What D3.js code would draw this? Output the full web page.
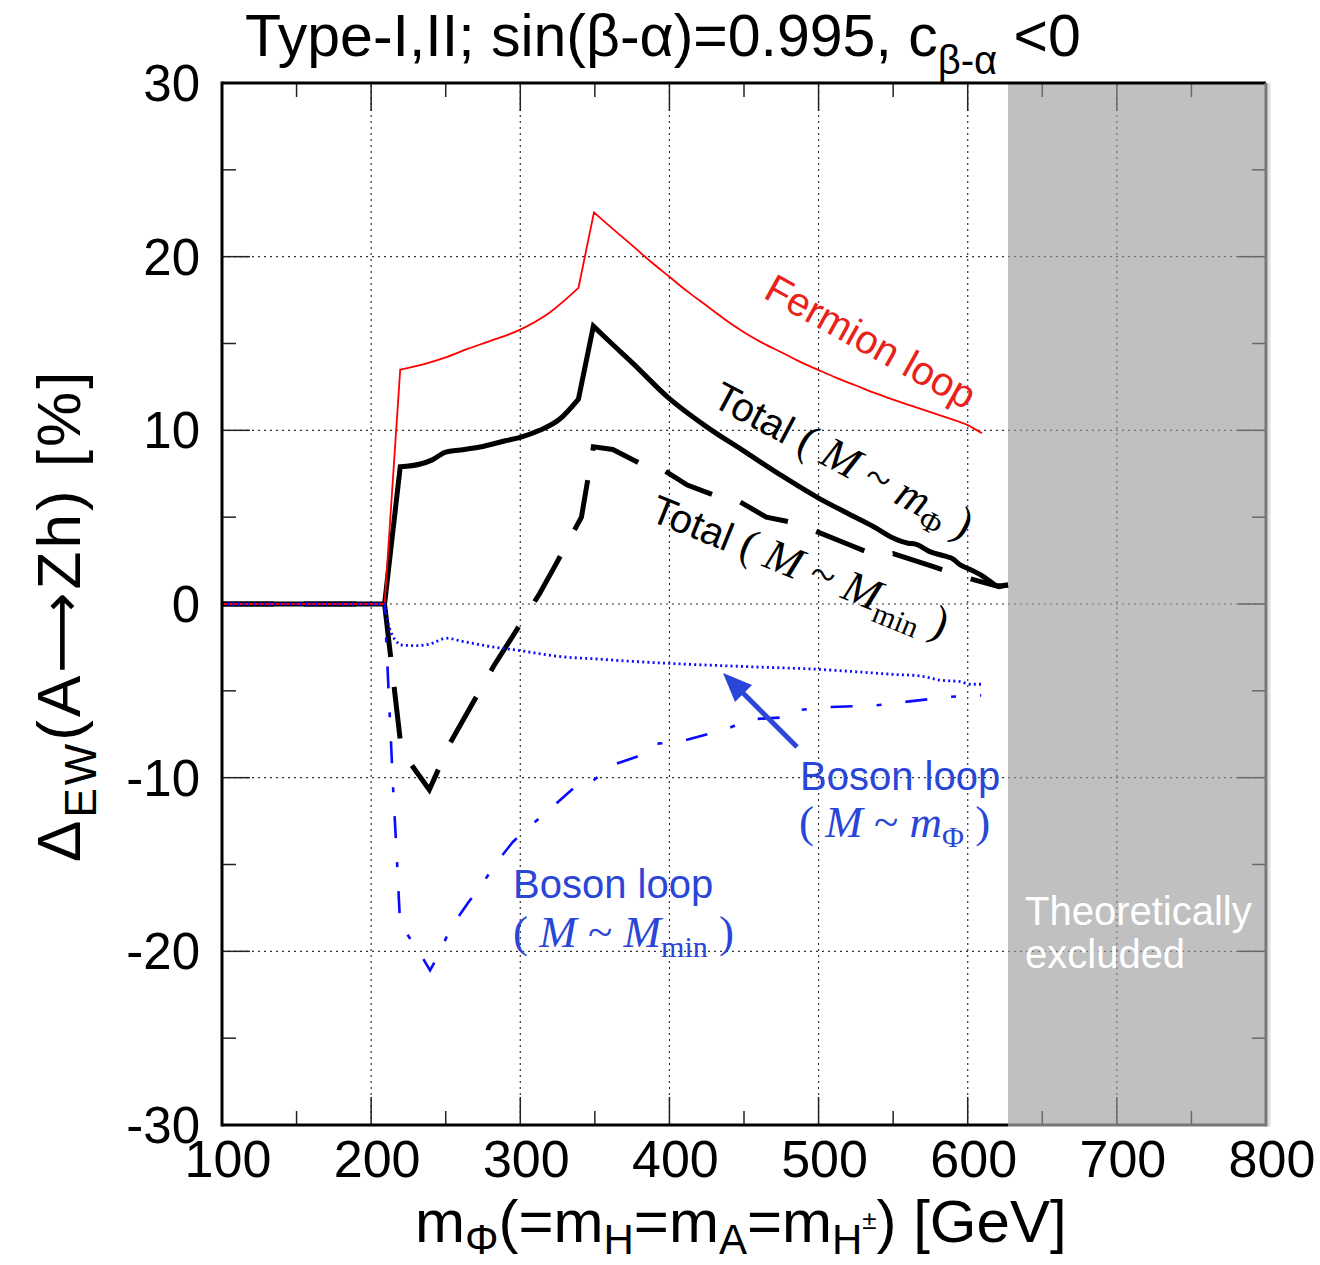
<!DOCTYPE html>
<html>
<head>
<meta charset="utf-8">
<script src="https://cdn.jsdelivr.net/npm/d3@7"></script>
<style>
  body { margin: 0; background: #fff; }
  svg { display: block; }
</style>
</head>
<body>
<svg id="chart" width="1320" height="1265"></svg>
<script>
// ====================================
// Données
// ====================================
const xTicksMajor = [100, 200, 300, 400, 500, 600, 700, 800];
const yTicksMajor = [-30, -20, -10, 0, 10, 20, 30];
const excludedFrom = 627;

// Fermion loop
const massFermion = [100, 209, 219.5, 235, 250, 265, 280, 300, 320, 339, 349.4, 362, 375, 387, 400, 412, 425, 437, 450, 462, 475, 487, 500, 512, 525, 537, 550, 562, 575, 587, 600, 609.5];
const fermionLoop = [0, 0, 13.5, 13.8, 14.2, 14.7, 15.15, 15.8, 16.8, 18.2, 22.55, 21.6, 20.65, 19.75, 18.84, 18.0, 17.17, 16.4, 15.65, 15.05, 14.5, 13.97, 13.47, 13.02, 12.58, 12.17, 11.77, 11.42, 11.05, 10.7, 10.3, 9.83];

// Total (M ~ m_Phi)
const massTotal = [100, 209, 219.5, 233, 241, 250, 260, 273, 290, 300, 313, 326.5, 339, 349, 360, 375, 399, 425, 450, 475, 500, 520, 537, 550, 560, 565, 575, 585, 590, 595, 600, 610, 615, 620, 627];
const totalMPhi = [0, 0, 7.9, 8.06, 8.3, 8.75, 8.87, 9.04, 9.4, 9.6, 10.0, 10.65, 11.8, 16.0, 15.1, 13.9, 11.9, 10.2, 8.8, 7.4, 6.1, 5.2, 4.45, 3.8, 3.5, 3.45, 3.0, 2.75, 2.6, 2.25, 2.05, 1.6, 1.3, 1.05, 1.1];

// Total (M ~ M_min)
const massTotalMin = [100, 209, 220, 224, 239, 253, 282, 313, 323, 341, 349, 362, 380, 389, 412, 432, 440, 447, 465, 485, 521, 541, 550, 577, 597, 621, 627];
const totalMmin = [0, 0, -8.2, -8.9, -10.7, -8.0, -3.6, 0.6, 2.15, 5.0, 9.05, 8.9, 8.1, 8.1, 6.85, 6.2, 5.9, 5.9, 5.0, 4.65, 3.4, 2.7, 2.9, 2.15, 1.57, 1.0, 1.1];

// Boson loop (M ~ m_Phi)
const massBoson = [100, 209, 212, 219.5, 230, 239.5, 250.7, 260, 280, 300, 327, 354, 367, 400, 450, 499, 525, 550, 568, 581, 595, 601.5, 609.4];
const bosonMPhi = [0, 0, -1.3, -2.36, -2.4, -2.3, -1.97, -2.13, -2.45, -2.69, -3.03, -3.18, -3.26, -3.42, -3.6, -3.76, -3.9, -4.05, -4.14, -4.38, -4.47, -4.62, -4.62];

// Boson loop (M ~ M_min)
const massBosonMin = [100, 209, 215, 217, 219.4, 221, 229.4, 232, 239.5, 246, 253, 265, 274, 283, 295, 306.5, 320, 334.5, 339, 347, 362, 378, 389, 407, 438, 454, 479, 488, 503, 537, 588, 609];
const bosonMmin = [0, 0, -11.1, -14.2, -18.4, -18.6, -19.7, -20.0, -21.1, -20.07, -18.7, -17.2, -16.2, -15.0, -13.7, -12.8, -11.8, -10.7, -10.3, -10.3, -9.27, -8.8, -8.06, -7.93, -7.21, -6.64, -6.52, -6.1, -5.95, -5.85, -5.34, -5.26];

// ====================================
// Mise en page
// ====================================
const sans = "'Liberation Sans', Arial, Helvetica, sans-serif";
const serif = "'Liberation Serif', 'Times New Roman', serif";
const blueText = "#2a46d6";

const svg = d3.select("#chart");
const x = d3.scaleLinear().domain([100, 800]).range([222, 1266]);
const y = d3.scaleLinear().domain([-30, 30]).range([1125, 83]);
const [x0, x1] = x.range();
const [y0, y1] = y.range();

// zone exclue (fond gris)
svg.append("rect")
    .attr("x", x(excludedFrom)).attr("y", y1)
    .attr("width", x(800) - x(excludedFrom)).attr("height", y0 - y1)
    .attr("fill", "#c0c0c0");

// grille pointillée
const grid = svg.append("g").attr("stroke", "#333").attr("stroke-width", 1.2).attr("stroke-dasharray", "2,4");
grid.selectAll(".gx").data(xTicksMajor.slice(1, -1)).join("line")
    .attr("x1", d => x(d)).attr("x2", d => x(d)).attr("y1", y0).attr("y2", y1);
grid.selectAll(".gy").data(yTicksMajor.slice(1, -1)).join("line")
    .attr("x1", x0).attr("x2", x1).attr("y1", d => y(d)).attr("y2", d => y(d));

// graduations (vers l'intérieur, sur les 4 côtés)
const ticks = svg.append("g").attr("stroke", "#222").attr("stroke-width", 1.5);
const xMinor = d3.range(150, 800, 100);
const yMinor = d3.range(-25, 30, 10);
function xTick(v, len) {
    ticks.append("line").attr("x1", x(v)).attr("x2", x(v)).attr("y1", y0).attr("y2", y0 - len);
    ticks.append("line").attr("x1", x(v)).attr("x2", x(v)).attr("y1", y1).attr("y2", y1 + len);
}
function yTick(v, len) {
    ticks.append("line").attr("x1", x0).attr("x2", x0 + len).attr("y1", y(v)).attr("y2", y(v));
    ticks.append("line").attr("x1", x1).attr("x2", x1 - len).attr("y1", y(v)).attr("y2", y(v));
}
xTicksMajor.forEach(v => xTick(v, 28));
xMinor.forEach(v => xTick(v, 14));
yTicksMajor.forEach(v => yTick(v, 28));
yMinor.forEach(v => yTick(v, 14));

// voile gris sur les graduations dans la zone exclue
svg.append("rect")
    .attr("x", x(excludedFrom)).attr("y", y1)
    .attr("width", x(800) - x(excludedFrom)).attr("height", y0 - y1)
    .attr("fill", "#c0c0c0").attr("opacity", 0.45);

// ====================================
// Courbes
// ====================================
const smooth = d3.line().curve(d3.curveMonotoneX).x(d => x(d[0])).y(d => y(d[1]));
const straight = d3.line().x(d => x(d[0])).y(d => y(d[1]));

// lissé par morceaux : angles vifs aux masses données dans "corners"
function piecewise(mass, values, corners) {
    const pts = d3.zip(mass, values);
    let d = "", start = 0;
    const cuts = corners.map(c => mass.indexOf(c)).concat([pts.length - 1]);
    cuts.forEach(end => {
        if (end <= start) return;
        const seg = pts.slice(start, end + 1);
        const p = (seg.length > 2 ? smooth : straight)(seg);
        d += d === "" ? p : "L" + p.slice(1);
        start = end;
    });
    return d;
}

function drawCurve(d, color, width, dash) {
    svg.append("path")
        .attr("d", d)
        .attr("fill", "none")
        .attr("stroke", color)
        .attr("stroke-width", width)
        .attr("stroke-linejoin", "miter")
        .attr("stroke-dasharray", dash);
}

drawCurve(piecewise(massTotal, totalMPhi, [209, 219.5, 339, 349]), "#000", 5, null);
drawCurve(straight(d3.zip(massTotalMin, totalMmin)), "#000", 5, "52,30");
drawCurve(straight(d3.zip(massBosonMin, bosonMmin)), "#0a0aff", 2.6, "22,24,5,24");
drawCurve(piecewise(massFermion, fermionLoop, [209, 219.5, 339, 349.4]), "#ff0000", 1.8, null);
drawCurve(piecewise(massBoson, bosonMPhi, [209, 219.5]), "#0a0aff", 2.8, "2,3.2");

// cadre
svg.append("line").attr("x1", x0).attr("x2", x(excludedFrom)).attr("y1", y0).attr("y2", y0)
    .attr("stroke", "#000").attr("stroke-width", 3);
svg.append("line").attr("x1", x(excludedFrom)).attr("x2", x1).attr("y1", y0).attr("y2", y0)
    .attr("stroke", "#777").attr("stroke-width", 3);
svg.append("line").attr("x1", x0).attr("x2", x1).attr("y1", y1).attr("y2", y1)
    .attr("stroke", "#000").attr("stroke-width", 3);
svg.append("line").attr("x1", x0).attr("x2", x0).attr("y1", y1 - 1.5).attr("y2", y0 + 1.5)
    .attr("stroke", "#000").attr("stroke-width", 3);
svg.append("line").attr("x1", x1 + 3).attr("x2", x1 + 3).attr("y1", y1).attr("y2", y0 + 1.5)
    .attr("stroke", "#ddd").attr("stroke-width", 3);
svg.append("line").attr("x1", x1).attr("x2", x1).attr("y1", y1).attr("y2", y0 + 1.5)
    .attr("stroke", "#777").attr("stroke-width", 3);

// ====================================
// Étiquettes des axes
// ====================================
svg.append("g").selectAll("text").data(xTicksMajor).join("text")
    .attr("x", d => x(d) + 6).attr("y", 1177)
    .attr("text-anchor", "middle")
    .attr("font-family", sans).attr("font-size", 52)
    .text(d => d);

svg.append("g").selectAll("text").data(yTicksMajor).join("text")
    .attr("x", 200).attr("y", d => y(d) + 18)
    .attr("text-anchor", "end")
    .attr("font-family", sans).attr("font-size", 51)
    .text(d => d);

// titre
const title = svg.append("text")
    .attr("x", 245).attr("y", 56)
    .attr("font-family", sans).attr("font-size", 59);
title.append("tspan").text("Type-I,II; sin(β-α)=0.995, c");
title.append("tspan").attr("font-size", 40).attr("dy", 18).text("β-α");
title.append("tspan").attr("dy", -18).text(" <0");

// titre axe x
const xl = svg.append("text")
    .attr("x", 415).attr("y", 1242)
    .attr("font-family", sans).attr("font-size", 60);
xl.append("tspan").text("m");
xl.append("tspan").attr("font-size", 42).attr("dy", 12).text("Φ");
xl.append("tspan").attr("dy", -12).text("(=m");
xl.append("tspan").attr("font-size", 42).attr("dy", 12).text("H");
xl.append("tspan").attr("dy", -12).text("=m");
xl.append("tspan").attr("font-size", 42).attr("dy", 12).text("A");
xl.append("tspan").attr("dy", -12).text("=m");
xl.append("tspan").attr("font-size", 42).attr("dy", 12).text("H");
xl.append("tspan").attr("font-size", 26).attr("dy", -25).text("±");
xl.append("tspan").attr("dy", 13).text(") [GeV]");

// titre axe y
const yl = svg.append("text")
    .attr("transform", "translate(80,862) rotate(-90)")
    .attr("font-family", sans).attr("font-size", 62)
    .attr("letter-spacing", 3);
yl.append("tspan").text("Δ");
yl.append("tspan").attr("font-size", 44).attr("dy", 16).text("EW");
yl.append("tspan").attr("dy", -16).text("(A");
yl.append("tspan").attr("font-family", "'DejaVu Sans', sans-serif").attr("font-size", 56).text("⟶");
yl.append("tspan").text("Zh) [%]");

// ====================================
// Annotations
// ====================================
function mathLabel(sel, sub, subText) {
    // ( M ~ m_Φ ) en Times italique
    sel.append("tspan").attr("font-family", serif).attr("font-size", 45).text(" ( ");
    sel.append("tspan").attr("font-family", serif).attr("font-size", 45).attr("font-style", "italic").text("M");
    sel.append("tspan").attr("font-family", serif).attr("font-size", 45).text(" ~ ");
    sel.append("tspan").attr("font-family", serif).attr("font-size", 45).attr("font-style", "italic").text(sub);
    sel.append("tspan").attr("font-family", serif).attr("font-size", 30).attr("dy", 10).text(subText);
    sel.append("tspan").attr("font-family", serif).attr("font-size", 45).attr("dy", -10).text("  )");
}

svg.append("text")
    .attr("transform", "translate(762,297) rotate(29)")
    .attr("font-family", sans).attr("font-size", 40).attr("fill", "#e8221a")
    .text("Fermion loop");

const t1 = svg.append("text")
    .attr("transform", "translate(710,405) rotate(28)")
    .attr("font-family", sans).attr("font-size", 40).attr("fill", "#000");
t1.append("tspan").text("Total");
mathLabel(t1, "m", "Φ");

const t2 = svg.append("text")
    .attr("transform", "translate(648,520) rotate(22)")
    .attr("font-family", sans).attr("font-size", 40).attr("fill", "#000");
t2.append("tspan").text("Total");
mathLabel(t2, "M", "min");

svg.append("text")
    .attr("x", 800).attr("y", 790)
    .attr("font-family", sans).attr("font-size", 40).attr("fill", blueText)
    .text("Boson loop");
const b1 = svg.append("text")
    .attr("x", 799).attr("y", 837)
    .attr("fill", blueText);
mathLabel(b1, "m", "Φ");

svg.append("text")
    .attr("x", 513).attr("y", 898)
    .attr("font-family", sans).attr("font-size", 40).attr("fill", blueText)
    .text("Boson loop");
const b2 = svg.append("text")
    .attr("x", 513).attr("y", 947)
    .attr("fill", blueText);
mathLabel(b2, "M", "min");

// flèche
svg.append("line")
    .attr("x1", 797).attr("y1", 747).attr("x2", 740).attr("y2", 690)
    .attr("stroke", blueText).attr("stroke-width", 5);
svg.append("path")
    .attr("d", "M723,673 L752,685 L735,702 Z")
    .attr("fill", blueText);

svg.append("text")
    .attr("x", 1025).attr("y", 925)
    .attr("font-family", sans).attr("font-size", 40).attr("fill", "#fff")
    .text("Theoretically");
svg.append("text")
    .attr("x", 1025).attr("y", 968)
    .attr("font-family", sans).attr("font-size", 40).attr("fill", "#fff")
    .text("excluded");
</script>
</body>
</html>
